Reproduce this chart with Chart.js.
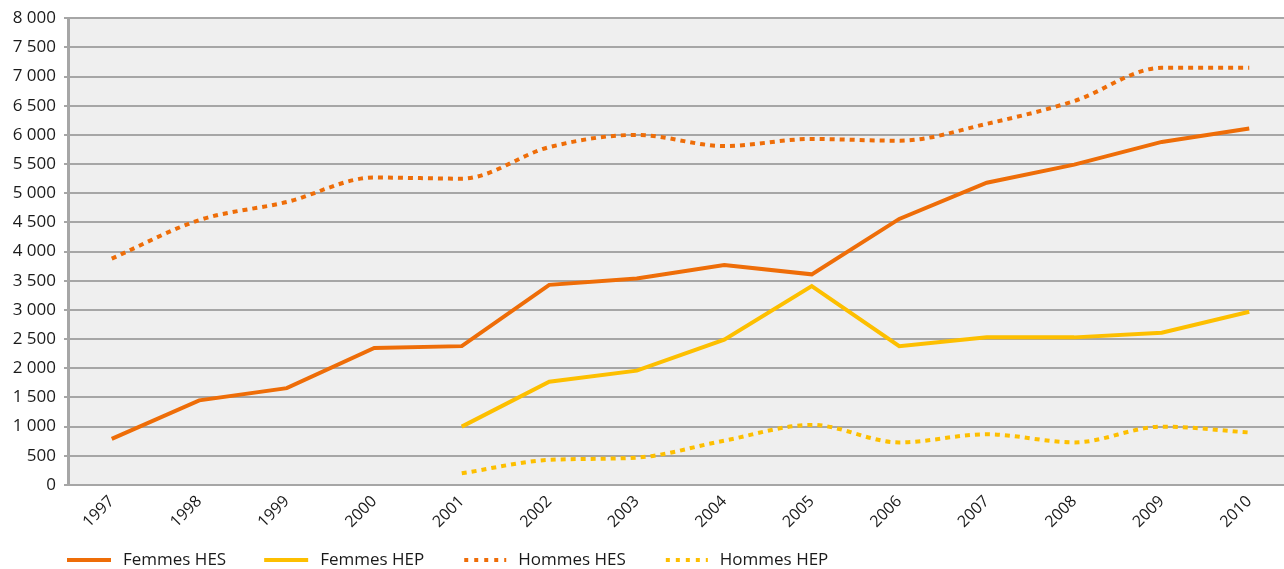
<!DOCTYPE html>
<html><head><meta charset="utf-8">
<script src="https://cdn.jsdelivr.net/npm/chart.js@4/dist/chart.umd.min.js"></script>
<style>html,body{margin:0;padding:0;background:#fff;overflow:hidden;} #wrap{width:1293px;height:569px;}</style>
</head><body><div id="wrap"><canvas id="c" width="1293" height="569"></canvas></div>
<script>
const years = ['1997','1998','1999','2000','2001','2002','2003','2004','2005','2006','2007','2008','2009','2010'];
const femmesHES = [790, 1450, 1660, 2350, 2380, 3430, 3540, 3770, 3610, 4560, 5180, 5490, 5880, 6110];
const femmesHEP = [null, null, null, null, 1000, 1770, 1960, 2490, 3410, 2380, 2530, 2530, 2610, 2970];
const hommesHES = [3880, 4540, 4850, 5270, 5250, 5790, 6000, 5810, 5930, 5900, 6190, 6580, 7150, 7150];
const hommesHEP = [null, null, null, null, 200, 430, 470, 760, 1030, 730, 870, 730, 1000, 900];
const seriesLabels = ['Femmes HES', 'Femmes HEP', 'Hommes HES', 'Hommes HEP'];

const ORANGE = '#EE6D08';
const YELLOW = '#FDBF00';
const FONT = 'Open Sans';

function fmt(v){
  if (v < 1000) return String(v);
  return Math.floor(v/1000) + ' ' + String(v % 1000).padStart(3,'0');
}

const bgPlugin = {
  id: 'plotBg',
  beforeDraw(chart){
    const {ctx, chartArea:a} = chart;
    ctx.save(); ctx.fillStyle = '#EFEFEF';
    ctx.fillRect(a.left, a.top, a.right - a.left, a.bottom - a.top);
    ctx.restore();
  }
};

const legendPlugin = {
  id: 'customLegend',
  afterDraw(chart){
    const ctx = chart.ctx; let x = chart.chartArea.left - 1; const y = 560;
    ctx.save();
    ctx.font = '17px "' + FONT + '"';
    ctx.textBaseline = 'middle';
    chart.data.datasets.forEach(ds => {
      ctx.beginPath();
      ctx.strokeStyle = ds.borderColor; ctx.lineWidth = 4; ctx.lineCap = 'butt';
      const dotted = ds.borderDash && ds.borderDash.length;
      ctx.setLineDash(dotted ? [4,6] : []);
      ctx.lineDashOffset = dotted ? 8 : 0;
      ctx.moveTo(x, y); ctx.lineTo(x + 44, y); ctx.stroke();
      ctx.setLineDash([]);
      ctx.fillStyle = '#1a1a1a';
      ctx.fillText(ds.label, x + 56, y);
      x += 56 + ctx.measureText(ds.label).width + 38;
    });
    ctx.restore();
  }
};

new Chart(document.getElementById('c'), {
  type: 'line',
  data: {
    labels: years,
    datasets: [
      {label: seriesLabels[0], data: femmesHES, borderColor: ORANGE, borderWidth: 4, pointRadius: 0, tension: 0, borderDash: []},
      {label: seriesLabels[1], data: femmesHEP, borderColor: YELLOW, borderWidth: 4, pointRadius: 0, tension: 0, borderDash: []},
      {label: seriesLabels[2], data: hommesHES, borderColor: ORANGE, borderWidth: 4, pointRadius: 0, cubicInterpolationMode: 'monotone', borderDash: [5,5]},
      {label: seriesLabels[3], data: hommesHEP, borderColor: YELLOW, borderWidth: 4, pointRadius: 0, cubicInterpolationMode: 'monotone', borderDash: [5,5]}
    ]
  },
  options: {
    responsive: false,
    animation: false,
    devicePixelRatio: 1,
    layout: {padding: {top: 18, right: 0, bottom: 0, left: 0}},
    plugins: {legend: {display: false}, tooltip: {enabled: false}},
    scales: {
      x: {
        offset: true,
        grid: {display: false, drawTicks: false},
        border: {display: true, color: '#A6A6A6', width: 2},
        ticks: {minRotation: 45, maxRotation: 45, padding: 7, color: '#1a1a1a', font: {family: FONT, size: 16}},
        afterFit(s){ s.height = 84; }
      },
      y: {
        min: 0, max: 8000,
        grid: {color: '#A6A6A6', lineWidth: 2, tickLength: 4, drawTicks: true},
        border: {display: true, color: '#A6A6A6', width: 3},
        ticks: {stepSize: 500, padding: 8, color: '#1a1a1a', font: {family: FONT, size: 17}, callback: v => fmt(v)},
        afterFit(s){ s.width = 68; }
      }
    }
  },
  plugins: [bgPlugin, legendPlugin]
});
</script></body></html>
